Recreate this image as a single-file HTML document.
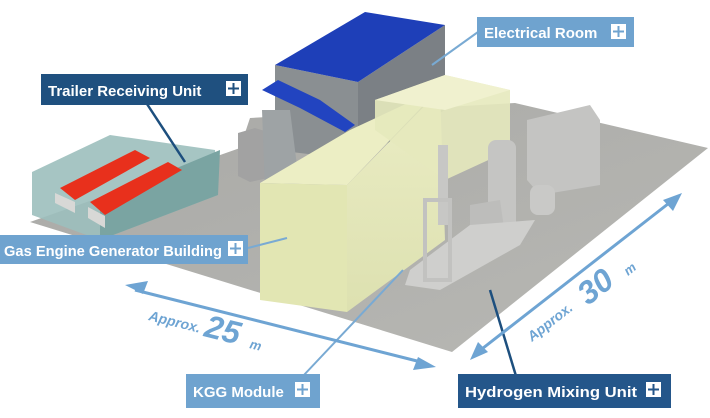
<!DOCTYPE html>
<html><head><meta charset="utf-8"><style>
html,body{margin:0;padding:0;background:#fff}
svg{display:block}
text{font-family:"Liberation Sans",sans-serif}
</style></head><body>
<svg width="710" height="418" viewBox="0 0 710 418" xmlns="http://www.w3.org/2000/svg">
<defs>
<linearGradient id="fl" x1="0" y1="0" x2="1" y2="1"><stop offset="0" stop-color="#a9a9a6"/><stop offset="1" stop-color="#b8b8b4"/></linearGradient>
<linearGradient id="yl" x1="0" y1="0" x2="0" y2="1"><stop offset="0" stop-color="#eef0c6"/><stop offset="1" stop-color="#dfe3b0"/></linearGradient>
</defs>
<polygon points="30,222 240,148 250,118 515,103 708,148 452,352" fill="url(#fl)"/>
<!-- trailer unit -->
<polygon points="32,172 110,135 215,150 218,195 100,240 32,215" fill="#9cbfbd" opacity="0.9"/>
<polygon points="100,240 218,195 220,150 100,200" fill="#7aa4a2"/>
<polygon points="60,188 135,150 150,158 75,200" fill="#e8301c"/>
<polygon points="90,202 168,162 182,170 105,215" fill="#e8301c"/>
<polygon points="55,193 75,202 75,213 55,203" fill="#d8d8d6"/>
<polygon points="88,207 105,216 105,228 88,218" fill="#d8d8d6"/>
<!-- small gray box -->
<polygon points="238,133 255,128 268,132 268,178 250,182 238,176" fill="#a2a2a2"/>
<!-- electrical room -->
<polygon points="275,65 358,82 358,160 275,150" fill="#8a8f92"/>
<polygon points="358,82 445,25 445,110 358,160" fill="#7b8085"/>
<polygon points="275,65 365,12 445,25 358,82" fill="#1e3fb8"/>
<polygon points="262,90 278,80 320,100 355,125 345,132 300,108" fill="#2244c0"/>
<polygon points="262,110 290,110 300,190 265,190" fill="#9ea3a5"/>
<!-- generator building -->
<polygon points="260,183 347,185 347,312 260,300" fill="#e2e6b3"/>
<polygon points="347,185 440,90 445,240 347,312" fill="url(#yl)" opacity="0.95"/>
<polygon points="260,183 350,130 440,88 347,185" fill="#eceec4"/>
<polygon points="375,100 445,75 510,90 510,150 445,180 375,130" fill="#e6e9bc" opacity="0.9"/>
<polygon points="445,75 510,90 445,110 375,100" fill="#f0f1cf"/>
<!-- equipment -->
<rect x="438" y="145" width="10" height="80" fill="#c7c7c5"/>
<rect x="488" y="140" width="28" height="90" rx="8" fill="#c5c5c3"/>
<polygon points="470,205 500,200 505,235 470,240" fill="#bdbdbb"/>
<polygon points="527,120 590,105 600,120 600,185 540,195 527,180" fill="#c4c4c2"/>
<rect x="530" y="185" width="25" height="30" rx="8" fill="#c9c9c7"/>
<polygon points="405,285 440,290 520,245 535,220 470,225 410,270" fill="#cfcfcd"/>
<rect x="425" y="200" width="25" height="80" fill="none" stroke="#c2c2c0" stroke-width="4"/>
<!-- leader lines -->
<line x1="432" y1="65" x2="478" y2="32" stroke="#79aad3" stroke-width="2"/>
<line x1="147" y1="104" x2="185" y2="162" stroke="#1d4f7e" stroke-width="2.5"/>
<line x1="248" y1="248" x2="287" y2="238" stroke="#79aad3" stroke-width="2"/>
<line x1="403" y1="270" x2="303" y2="376" stroke="#79aad3" stroke-width="2"/>
<line x1="490" y1="290" x2="516" y2="376" stroke="#1d4f7e" stroke-width="2.5"/>
<g stroke="#6ea4d3" stroke-width="3" fill="#6ea4d3">
<line x1="135" y1="290" x2="425" y2="363"/>
<line x1="478" y1="352" x2="673" y2="200"/>
</g>
<polygon points="125,285 148,281 143,294" fill="#6ea4d3"/>
<polygon points="436,367 413,370 418,357" fill="#6ea4d3"/>
<polygon points="470,360 478,342 488,352" fill="#6ea4d3"/>
<polygon points="682,193 673,211 663,200" fill="#6ea4d3"/>
<g fill="#6ea4d3" font-style="italic" font-weight="bold">
<text x="148" y="320" font-size="14" transform="rotate(14 148 320)">Approx.</text>
<text x="203" y="336" font-size="32" transform="rotate(14 203 336)">25</text>
<text x="249" y="348" font-size="13" transform="rotate(14 249 348)">m</text>
<text x="532" y="342" font-size="14" transform="rotate(-38 532 342)">Approx.</text>
<text x="588" y="306" font-size="32" transform="rotate(-38 588 306)">30</text>
<text x="628" y="276" font-size="13" transform="rotate(-38 628 276)">m</text>
</g>
<g font-size="15" fill="#fff" font-weight="bold">
<rect x="477" y="17" width="157" height="30" fill="#6fa3cf"/>
<text x="484" y="38">Electrical Room</text>
<rect x="611" y="24" width="15" height="15" fill="#fff"/><path d="M613,31.5h11M618.5,26v11" stroke="#6fa3cf" stroke-width="2"/>
<rect x="41" y="74" width="207" height="31" fill="#1f507f"/>
<text x="48" y="96">Trailer Receiving Unit</text>
<rect x="226" y="81" width="15" height="15" fill="#fff"/><path d="M228,88.5h11M233.5,83v11" stroke="#1f507f" stroke-width="2"/>
<rect x="0" y="235" width="248" height="29" fill="#6fa3cf"/>
<text x="4" y="256" textLength="218" lengthAdjust="spacingAndGlyphs">Gas Engine Generator Building</text>
<rect x="228" y="241" width="15" height="15" fill="#fff"/><path d="M230,248.5h11M235.5,243v11" stroke="#6fa3cf" stroke-width="2"/>
<rect x="186" y="374" width="134" height="34" fill="#6fa3cf"/>
<text x="193" y="397">KGG Module</text>
<rect x="295" y="382" width="15" height="15" fill="#fff"/><path d="M297,389.5h11M302.5,384v11" stroke="#6fa3cf" stroke-width="2"/>
<rect x="458" y="374" width="213" height="34" fill="#24568a"/>
<text x="465" y="397" textLength="172" lengthAdjust="spacingAndGlyphs">Hydrogen Mixing Unit</text>
<rect x="646" y="382" width="15" height="15" fill="#fff"/><path d="M648,389.5h11M653.5,384v11" stroke="#24568a" stroke-width="2"/>
</g>
</svg>
</body></html>
